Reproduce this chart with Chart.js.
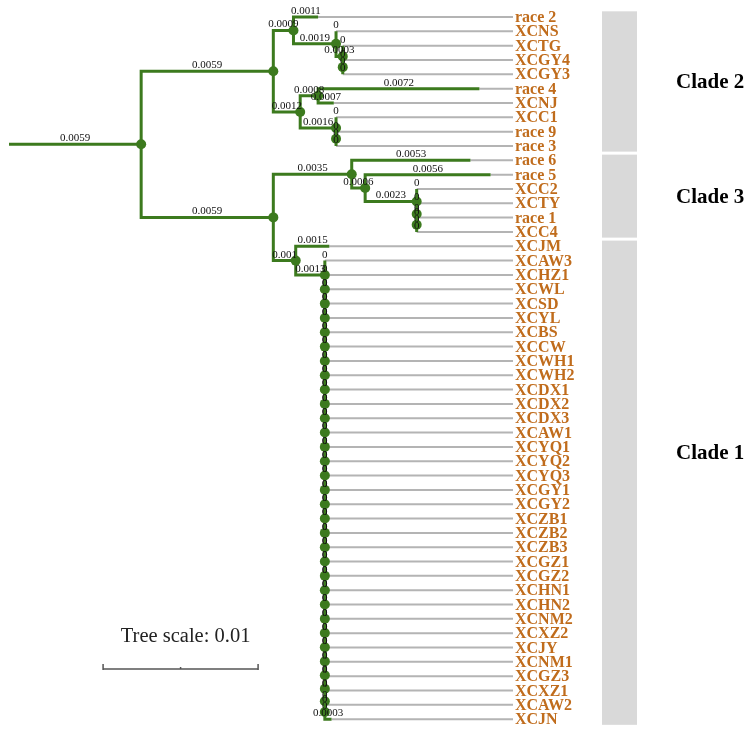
<!DOCTYPE html>
<html><head><meta charset="utf-8">
<script src="https://cdn.jsdelivr.net/npm/chart.js@4/dist/chart.umd.min.js"></script>
<style>html,body{margin:0;padding:0;background:#fff;}canvas{display:block;}</style>
</head><body>
<canvas id="c" width="753" height="734"></canvas>
<script>
// ---- DATA ----
const clade2Newick = "(('race 2':0.0011,(XCNS:0,(XCTG:0,(XCGY4:0,XCGY3:0):0):0.0003):0.0019):0.0009,(('race 4':0.0072,XCNJ:0.0007):0.0008,(XCC1:0,('race 9':0,'race 3':0):0):0.0016):0.0012):0.0059";
const clade3Newick = "('race 6':0.0053,('race 5':0.0056,(XCC2:0,(XCTY:0,('race 1':0,XCC4:0):0):0):0.0023):0.0006):0.0035";
const clade1Newick = "(XCJM:0.0015,(XCAW3:0,(XCHZ1:0,(XCWL:0,(XCSD:0,(XCYL:0,(XCBS:0,(XCCW:0,(XCWH1:0,(XCWH2:0,(XCDX1:0,(XCDX2:0,(XCDX3:0,(XCAW1:0,(XCYQ1:0,(XCYQ2:0,(XCYQ3:0,(XCGY1:0,(XCGY2:0,(XCZB1:0,(XCZB2:0,(XCZB3:0,(XCGZ1:0,(XCGZ2:0,(XCHN1:0,(XCHN2:0,(XCNM2:0,(XCXZ2:0,(XCJY:0,(XCNM1:0,(XCGZ3:0,(XCXZ1:0,(XCAW2:0,XCJN:0.0003)"
  + ":0):0):0):0):0):0):0):0):0):0):0):0):0):0):0):0):0):0):0):0):0):0):0):0):0):0):0):0):0):0):0)" + ":0.0013):0.001";
const treeNewick = "(" + clade2Newick + ",(" + clade3Newick + "," + clade1Newick + "):0.0059):0.0059;";

const cladeNames    = ['Clade 2', 'Clade 3', 'Clade 1'];
const cladeFirstTip = ['race 2', 'race 6', 'XCJM'];
const cladeLastTip  = ['race 3', 'XCC4', 'XCJN'];
const cladeLabelRow = [4.5, 12.5, 30.4];
const scaleBarTitle = 'Tree scale: 0.01';
const scaleBarX = [0.0042, 0.01112];
const scaleBarRow = 45.5;
const scaleTitleRow = 43.25;

// ---- LAYOUT CONSTANTS ----
const PX_PER_UNIT = 22400, ROW_PX = 14.33;
const XMIN = -9 / PX_PER_UNIT, XMAX = (753 - 9) / PX_PER_UNIT;
const YMIN = -17 / ROW_PX, YMAX = (734 - 17) / ROW_PX;
const LABEL_PX = 515;
const GREEN = '#3c7a1e', GREY = '#b4b4b4', ORANGE = '#c06c1c';

// ---- PARSE ----
function parseNewick(s) {
  let i = 0;
  function node() {
    const n = { children: [], name: '', len: '0' };
    if (s[i] === '(') {
      i++;
      n.children.push(node());
      while (s[i] === ',') { i++; n.children.push(node()); }
      i++;
    }
    if (s[i] === "'") { i++; const j = s.indexOf("'", i); n.name = s.slice(i, j); i = j + 1; }
    else { let m = ''; while (i < s.length && !':,();'.includes(s[i])) { m += s[i]; i++; } n.name = m; }
    if (s[i] === ':') { i++; let m = ''; while (i < s.length && !',();'.includes(s[i])) { m += s[i]; i++; } n.len = m; }
    return n;
  }
  return node();
}
const root = parseNewick(treeNewick);
const tips = [], allNodes = [];
function layout(n, parentX, parent) {
  n.px = parentX; n.x = parentX + parseFloat(n.len); n.parent = parent;
  allNodes.push(n);
  if (!n.children.length) { n.y = tips.length; tips.push(n); }
  else {
    n.children.forEach(c => layout(c, n.x, n));
    n.y = (n.children[0].y + n.children[n.children.length - 1].y) / 2;
  }
}
layout(root, 0, null);
if (tips.length !== 50) throw new Error('tip count ' + tips.length);

// ---- DATASETS ----
const branchPts = [], leafPts = [], nodePts = [];
allNodes.forEach(n => {
  const py = n.parent ? n.parent.y : n.y;
  branchPts.push({ x: n.px, y: py }, { x: n.px, y: n.y }, { x: n.x, y: n.y }, { x: n.x, y: null });
  if (n.children.length) nodePts.push({ x: n.x, y: n.y });
});
const labelLineEnd = XMIN + (LABEL_PX - 2) / 753 * (XMAX - XMIN);
tips.forEach(t => { leafPts.push({ x: t.x, y: t.y }, { x: labelLineEnd, y: t.y }, { x: labelLineEnd, y: null }); });

const treePlugin = {
  id: 'tree',
  beforeDatasetsDraw(chart) {
    const c = chart.ctx, ys = chart.scales.y;
    c.save();
    c.fillStyle = '#d9d9d9';
    cladeNames.forEach((nm, k) => {
      const a = tips.findIndex(t => t.name === cladeFirstTip[k]);
      const b = tips.findIndex(t => t.name === cladeLastTip[k]);
      const top = ys.getPixelForValue(a - 0.5) + 1.5, bot = ys.getPixelForValue(b + 0.5) - 1.5;
      c.fillRect(602, top, 35, bot - top);
    });
    c.restore();
  },
  afterDatasetsDraw(chart) {
    const c = chart.ctx, xs = chart.scales.x, ys = chart.scales.y;
    c.save();
    c.font = '11px "Liberation Serif", "Times New Roman", serif';
    c.fillStyle = '#111';
    c.textAlign = 'center'; c.textBaseline = 'bottom';
    allNodes.forEach(n => {
      const x = xs.getPixelForValue((n.px + n.x) / 2), y = ys.getPixelForValue(n.y);
      c.fillText(n.len, x, y - 0.5);
    });
    c.font = 'bold 16px "Liberation Serif", "Times New Roman", serif';
    c.fillStyle = ORANGE; c.textAlign = 'left'; c.textBaseline = 'middle';
    tips.forEach(t => c.fillText(t.name, LABEL_PX, ys.getPixelForValue(t.y) + 1));
    c.font = 'bold 21px "Liberation Serif", "Times New Roman", serif';
    c.fillStyle = '#000';
    cladeNames.forEach((nm, k) => c.fillText(nm, 676, ys.getPixelForValue(cladeLabelRow[k]) + 1));
    const x0 = xs.getPixelForValue(scaleBarX[0]), x1 = xs.getPixelForValue(scaleBarX[1]);
    const yb = ys.getPixelForValue(scaleBarRow);
    c.strokeStyle = '#555'; c.lineWidth = 1.5;
    c.beginPath();
    c.moveTo(x0, yb - 5); c.lineTo(x0, yb + 1);
    c.moveTo(x1, yb - 5); c.lineTo(x1, yb + 1);
    c.moveTo((x0 + x1) / 2, yb - 2); c.lineTo((x0 + x1) / 2, yb);
    c.stroke();
    c.font = '20.5px "Liberation Serif", "Times New Roman", serif';
    c.fillStyle = '#222'; c.textAlign = 'center';
    c.fillText(scaleBarTitle, (x0 + x1) / 2 + 5, ys.getPixelForValue(scaleTitleRow));
    c.restore();
  }
};

new Chart(document.getElementById('c'), {
  type: 'scatter',
  data: {
    datasets: [
      { data: nodePts, pointRadius: 5, pointBackgroundColor: GREEN, pointBorderWidth: 0, showLine: false, clip: false },
      { data: branchPts, showLine: true, borderColor: GREEN, borderWidth: 3, pointRadius: 0, spanGaps: false, borderJoinStyle: 'miter', borderCapStyle: 'butt', clip: false },
      { data: [{ x: scaleBarX[0], y: scaleBarRow }, { x: scaleBarX[1], y: scaleBarRow }], showLine: true, borderColor: '#555', borderWidth: 1.5, pointRadius: 0, clip: false },
      { data: leafPts, showLine: true, borderColor: GREY, borderWidth: 2, pointRadius: 0, spanGaps: false, clip: false }
    ]
  },
  options: {
    responsive: false, animation: false, devicePixelRatio: 1,
    layout: { padding: 0, autoPadding: false },
    plugins: { legend: { display: false }, tooltip: { enabled: false } },
    scales: {
      x: { type: 'linear', display: false, min: XMIN, max: XMAX },
      y: { type: 'linear', display: false, reverse: true, min: YMIN, max: YMAX }
    }
  },
  plugins: [treePlugin]
});
</script>
</body></html>
